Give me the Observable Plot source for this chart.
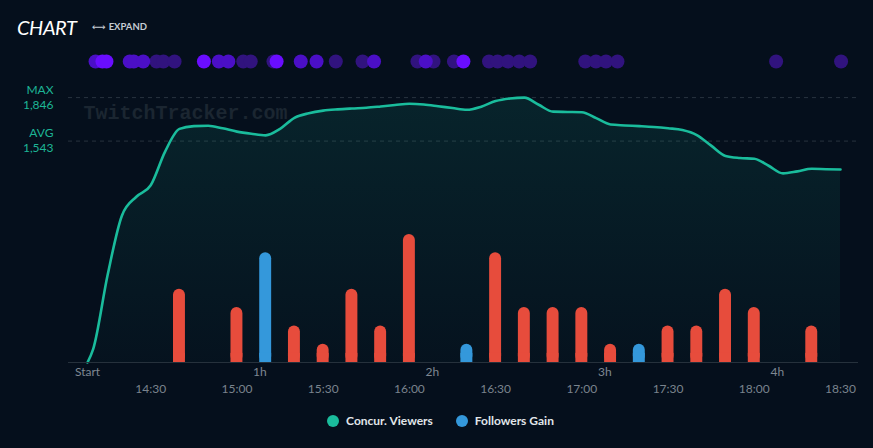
<!DOCTYPE html>
<html>
<head>
<meta charset="utf-8">
<script src="https://cdn.jsdelivr.net/npm/d3@7"></script>
<script src="https://cdn.jsdelivr.net/npm/@observablehq/plot@0.6"></script>
<style>
  html, body { margin: 0; padding: 0; background: #050f1c; }
  body { width: 873px; height: 448px; overflow: hidden; position: relative; font-family: Lato, "Open Sans", sans-serif; }
  #title { position: absolute; left: 17px; top: 12px; font-style: italic; font-size: 20px; line-height: 30px; color: #ffffff; letter-spacing: -0.4px; }
  #expand { position: absolute; left: 92px; top: 20px; font-size: 9.5px; line-height: 14px; font-weight: bold; color: #c5ccd3; }
  #expand .arr { font-family: "DejaVu Sans", sans-serif; font-weight: normal; margin-right: 3px; }
  #chart { position: absolute; left: 0; top: 44px; }
  #legend { position: absolute; left: 0; top: 409px; width: 873px; box-sizing: border-box; padding-left: 8px;
            display: flex; justify-content: center; gap: 23px; font-size: 12px; font-weight: bold; color: #e1e6ea; line-height: 24px; }
  #legend .sw { display: inline-block; width: 12px; height: 12px; border-radius: 50%; margin-right: 7px; vertical-align: -2px; }
</style>
</head>
<body>
<div id="title">CHART</div>
<div id="expand"><span class="arr">⟷</span>EXPAND</div>
<div id="chart"></div>
<div id="legend">
  <span><span class="sw" style="background:#1abc9c"></span>Concur. Viewers</span>
  <span><span class="sw" style="background:#3498db"></span>Followers Gain</span>
</div>
<script>
// ---- data ----
const streamStart = "14:08";
const streamEnd = "18:30";

const viewerClock = ["14:08","14:10","14:15","14:20","14:25","14:30","14:35","14:40","14:45","14:50","14:55",
  "15:00","15:05","15:10","15:15","15:20","15:25","15:30","15:35","15:40","15:45","15:50","15:55",
  "16:00","16:05","16:10","16:15","16:20","16:25","16:30","16:35","16:40","16:45","16:50","16:55",
  "17:00","17:05","17:10","17:15","17:20","17:25","17:30","17:35","17:40","17:45","17:50","17:55",
  "18:00","18:05","18:10","18:15","18:20","18:25","18:30"];
const viewerCounts = [0,95,610,1025,1155,1235,1470,1628,1647,1650,1632,
  1609,1594,1583,1628,1705,1737,1755,1764,1770,1775,1784,1794,
  1803,1798,1786,1773,1761,1783,1822,1840,1846,1796,1748,1746,
  1744,1703,1658,1652,1647,1641,1632,1620,1585,1511,1439,1425,
  1420,1371,1318,1332,1350,1347,1345];

const followerClock = ["14:40","15:00","15:10","15:20","15:30","15:40","15:50","16:00","16:20","16:30",
  "16:40","16:50","17:00","17:10","17:20","17:30","17:40","17:50","18:00","18:20"];
const followerValues = [4,3,6,2,1,4,2,7,1,6,3,3,3,1,1,2,2,4,3,2];
const followerKinds = ["loss","loss","gain","loss","loss","loss","loss","loss","gain","loss",
  "loss","loss","loss","loss","gain","loss","loss","loss","loss","loss"];

// activity markers on the top row: minutes since start, intensity level 1-3
const activityMinutes = [2.8,5.2,6.6,14.7,16.1,19.4,24.0,26.4,30.3,40.5,45.7,49.0,54.2,56.8,64.7,65.8,
  74.2,79.7,86.4,95.7,99.7,114.8,117.7,120.4,127.5,130.8,139.7,142.7,146.3,150.2,154.0,
  173.2,176.9,180.4,184.4,239.6,262.2];
const activityLevels = [2,3,3,2,2,2,1,1,1,3,2,2,1,1,1,3,
  2,2,1,1,2,1,2,1,1,3,1,1,1,1,1,
  1,1,1,1,1,1];

const elapsedHours = [0,1,2,3,4];
const elapsedLabels = ["Start","1h","2h","3h","4h"];
const clockTicks = ["14:30","15:00","15:30","16:00","16:30","17:00","17:30","18:00","18:30"];

const maxViewers = 1846;
const avgViewers = 1543;

// ---- build tables ----
const T = s => { const [h, m] = s.split(":").map(Number); return new Date(2024, 0, 1, h, m); };
const start = T(streamStart), end = T(streamEnd);
const MIN = 60000;
const viewers = viewerClock.map((c, i) => ({time: T(c), value: viewerCounts[i]}));
const followerUnit = 127.5; // secondary axis: viewers-scale units per follower
const followers = followerClock.map((c, i) => ({
  x1: new Date(+T(c) - 5 * MIN), x2: new Date(+T(c) + 5 * MIN),
  value: followerValues[i], kind: followerKinds[i]
}));
const activity = activityMinutes.map((m, i) => ({time: new Date(+start + m * MIN), level: activityLevels[i]}))
  .sort((a, b) => a.level - b.level);
const elapsed = elapsedHours.map((h, i) => ({time: new Date(+start + h * 60 * MIN), label: elapsedLabels[i]}));
const clock = clockTicks.map(c => ({time: T(c), label: c}));
const refLines = [{name: "MAX", value: maxViewers}, {name: "AVG", value: avgViewers}];

const kindColor = {loss: "#e74c3c", gain: "#3498db"};
const levelColor = {1: "#31137e", 2: "#4b0fc6", 3: "#6a0dff"};
const fmt = d3.format(",");

const chart = Plot.plot({
  width: 873, height: 356,
  marginLeft: 68, marginRight: 15, marginTop: 31, marginBottom: 38,
  style: {background: "transparent", color: "#7d8790", fontFamily: "Lato, sans-serif", overflow: "visible"},
  x: {type: "time", domain: [start, end], insetLeft: 19, insetRight: 18, axis: null},
  y: {domain: [0, 2000], axis: null},
  color: {type: "identity"},
  marks: [
    Plot.text(["TwitchTracker.com"], {text: d => d, frameAnchor: "top-left", dx: 15, dy: 29, textAnchor: "start",
      fontFamily: "Liberation Mono, DejaVu Sans Mono, monospace", fontWeight: "bold", fontSize: 20, fill: "#1b2631"}),
    Plot.ruleY(refLines, {y: "value", stroke: "#28333f", strokeDasharray: "4,4"}),
    Plot.areaY(viewers, {x: "time", y: "value", curve: "monotone-x", fill: "url(#viewerGrad)"}),
    Plot.lineY(viewers, {x: "time", y: "value", curve: "monotone-x", stroke: "#1abc9c", strokeWidth: 2.6}),
    Plot.rectY(followers, {x1: "x1", x2: "x2", y1: 0, y2: d => d.value * followerUnit,
      fill: d => kindColor[d.kind], rx: 6, insetLeft: 8.4, insetRight: 8.4}),
    Plot.rectY(followers, {x1: "x1", x2: "x2", y1: 0, y2: d => Math.min(d.value, 0.5) * followerUnit,
      fill: d => kindColor[d.kind], insetLeft: 8.4, insetRight: 8.4}),
    Plot.ruleY([0], {stroke: "#26313c"}),
    Plot.dot(activity, {x: "time", frameAnchor: "top", dy: -14, r: 7, fill: d => levelColor[d.level], stroke: null}),
    Plot.text(elapsed, {x: "time", text: "label", frameAnchor: "bottom", dy: 13, fontSize: 12, fill: "#7f8892"}),
    Plot.text(clock, {x: "time", text: "label", frameAnchor: "bottom", dy: 30, fontSize: 12, fill: "#7a838d"}),
    Plot.text(refLines, {y: "value", text: "name", frameAnchor: "left", dx: -15, dy: -7.5, textAnchor: "end", fontSize: 12, fill: "#1db596"}),
    Plot.text(refLines, {y: "value", text: d => fmt(d.value), frameAnchor: "left", dx: -15, dy: 7.5, textAnchor: "end", fontSize: 12, fill: "#1db596"})
  ]
});

const defs = document.createElementNS("http://www.w3.org/2000/svg", "defs");
defs.innerHTML = '<linearGradient id="viewerGrad" x1="0" y1="0" x2="0" y2="1">' +
  '<stop offset="0" stop-color="#1abc9c" stop-opacity="0.12"/>' +
  '<stop offset="1" stop-color="#1abc9c" stop-opacity="0.02"/></linearGradient>';
chart.prepend(defs);
document.getElementById("chart").appendChild(chart);
</script>
</body>
</html>
